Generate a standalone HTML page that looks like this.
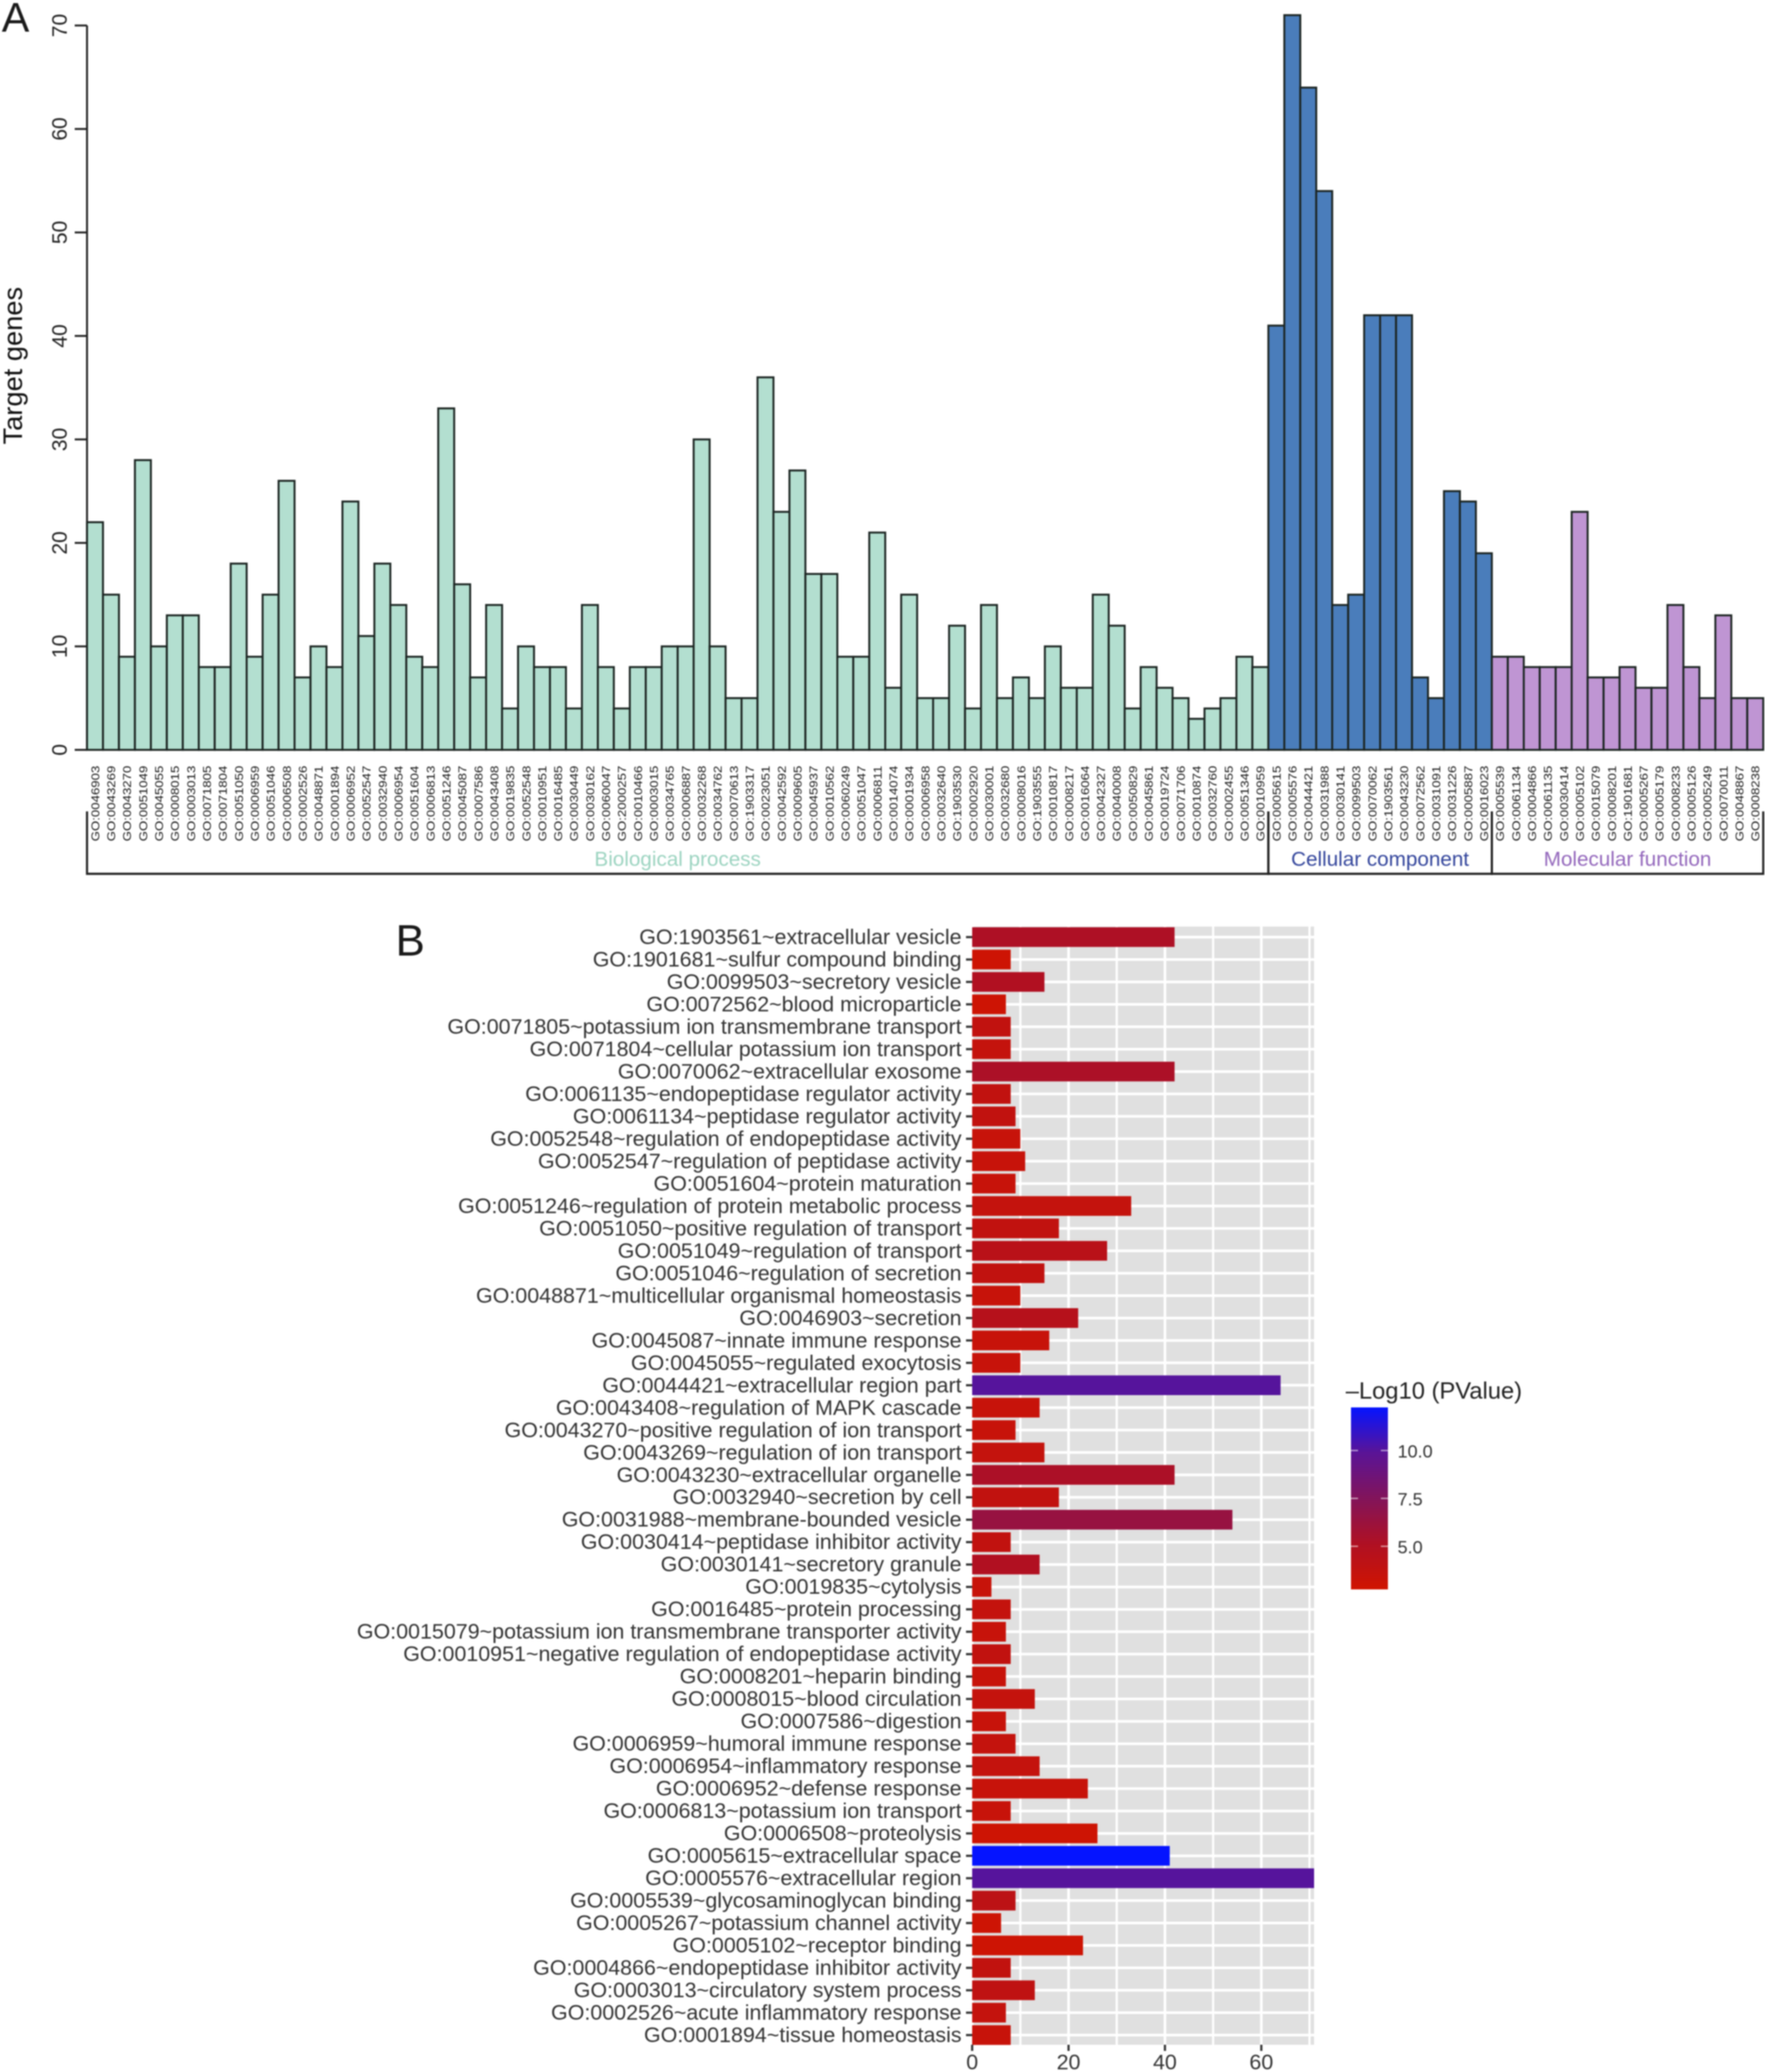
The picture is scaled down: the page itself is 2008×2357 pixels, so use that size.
<!DOCTYPE html>
<html lang="en">
<head>
<meta charset="utf-8">
<title>GO enrichment of target genes</title>
<style>
html,body{margin:0;padding:0;background:#fff;}
body{width:2008px;height:2357px;overflow:hidden;}
#figure{display:block;filter:blur(0.7px);font-family:"Liberation Sans",Arial,sans-serif;}
</style>
</head>
<body>
<svg id="figure" xmlns="http://www.w3.org/2000/svg" width="2008" height="2357" viewBox="0 0 2008 2357">
<defs>
<linearGradient id="legend-gradient" x1="0" y1="1" x2="0" y2="0"></linearGradient>
</defs>
<text x="2" y="36" font-size="47" fill="#1a1a1a">A</text>
<text x="450" y="1087" font-size="50" fill="#1a1a1a">B</text>
<g id="panel-a"></g>
<g id="panel-b"></g>
<g id="legend"></g>
</svg>
<script>
// ---------- Panel A data ----------
const bpTerms = ["0046903","0043269","0043270","0051049","0045055","0008015","0003013","0071805","0071804","0051050","0006959","0051046","0006508","0002526","0048871","0001894","0006952","0052547","0032940","0006954","0051604","0006813","0051246","0045087","0007586","0043408","0019835","0052548","0010951","0016485","0030449","0030162","0060047","2000257","0010466","0003015","0034765","0006887","0032268","0034762","0070613","1903317","0023051","0042592","0009605","0045937","0010562","0060249","0051047","0006811","0014074","0001934","0006958","0032640","1903530","0002920","0030001","0032680","0008016","1903555","0010817","0008217","0016064","0042327","0040008","0050829","0045861","0019724","0071706","0010874","0032760","0002455","0051346","0010959"];
const bpCounts = [22,15,9,28,10,13,13,8,8,18,9,15,26,7,10,8,24,11,18,14,9,8,33,16,7,14,4,10,8,8,4,14,8,4,8,8,10,10,30,10,5,5,36,23,27,17,17,9,9,21,6,15,5,5,12,4,14,5,7,5,10,6,6,15,12,4,8,6,5,3,4,5,9,8];
const ccTerms = ["0005615","0005576","0044421","0031988","0030141","0099503","0070062","1903561","0043230","0072562","0031091","0031226","0005887","0016023"];
const ccCounts = [41,71,64,54,14,15,42,42,42,7,5,25,24,19];
const mfTerms = ["0005539","0061134","0004866","0061135","0030414","0005102","0015079","0008201","1901681","0005267","0005179","0008233","0005126","0005249","0070011","0048867","0008238"];
const mfCounts = [9,9,8,8,8,23,7,7,8,6,6,14,8,5,13,5,5];
const yTicksA = [0,10,20,30,40,50,60,70];

// ---------- Panel B data ----------
const rowLabels = ["GO:1903561~extracellular vesicle","GO:1901681~sulfur compound binding","GO:0099503~secretory vesicle","GO:0072562~blood microparticle","GO:0071805~potassium ion transmembrane transport","GO:0071804~cellular potassium ion transport","GO:0070062~extracellular exosome","GO:0061135~endopeptidase regulator activity","GO:0061134~peptidase regulator activity","GO:0052548~regulation of endopeptidase activity","GO:0052547~regulation of peptidase activity","GO:0051604~protein maturation","GO:0051246~regulation of protein metabolic process","GO:0051050~positive regulation of transport","GO:0051049~regulation of transport","GO:0051046~regulation of secretion","GO:0048871~multicellular organismal homeostasis","GO:0046903~secretion","GO:0045087~innate immune response","GO:0045055~regulated exocytosis","GO:0044421~extracellular region part","GO:0043408~regulation of MAPK cascade","GO:0043270~positive regulation of ion transport","GO:0043269~regulation of ion transport","GO:0043230~extracellular organelle","GO:0032940~secretion by cell","GO:0031988~membrane-bounded vesicle","GO:0030414~peptidase inhibitor activity","GO:0030141~secretory granule","GO:0019835~cytolysis","GO:0016485~protein processing","GO:0015079~potassium ion transmembrane transporter activity","GO:0010951~negative regulation of endopeptidase activity","GO:0008201~heparin binding","GO:0008015~blood circulation","GO:0007586~digestion","GO:0006959~humoral immune response","GO:0006954~inflammatory response","GO:0006952~defense response","GO:0006813~potassium ion transport","GO:0006508~proteolysis","GO:0005615~extracellular space","GO:0005576~extracellular region","GO:0005539~glycosaminoglycan binding","GO:0005267~potassium channel activity","GO:0005102~receptor binding","GO:0004866~endopeptidase inhibitor activity","GO:0003013~circulatory system process","GO:0002526~acute inflammatory response","GO:0001894~tissue homeostasis"];
const rowCounts = [42,8,15,7,8,8,42,8,9,10,11,9,33,18,28,15,10,22,16,10,64,14,9,15,42,18,54,8,14,4,8,7,8,7,13,7,9,14,24,8,26,41,71,9,6,23,8,13,7,8];
const rowLogP = [5.2,3.0,5.0,3.0,3.8,3.6,5.3,3.8,3.8,3.4,3.4,3.4,3.6,3.8,4.4,3.8,3.4,4.6,3.4,3.4,10.0,3.4,3.4,3.6,5.3,3.8,6.4,3.8,5.0,3.4,3.6,3.4,3.8,3.4,3.6,3.4,3.6,3.6,3.4,3.4,3.0,12.25,10.0,4.2,3.0,3.0,3.8,4.0,3.6,3.4];
const xTicksB = [0,20,40,60];
const xMinorB = [10,30,50,70];
const legendTicks = [5,7.5,10];
const legendRange = [2.75,12.25];

const NS = "http://www.w3.org/2000/svg";
function make(parent, tag, attrs, txt) {
  const e = document.createElementNS(NS, tag);
  for (const k in attrs) e.setAttribute(k, attrs[k]);
  if (txt !== undefined) e.textContent = txt;
  parent.appendChild(e);
  return e;
}

// ---------- Panel A ----------
const groupsA = [
  {key:"biological-process", title:"Biological process", terms:bpTerms, counts:bpCounts, fill:"#b3dfd0", color:"#9dd4c1"},
  {key:"cellular-component", title:"Cellular component", terms:ccTerms, counts:ccCounts, fill:"#4a7dbb", color:"#34469c"},
  {key:"molecular-function", title:"Molecular function", terms:mfTerms, counts:mfCounts, fill:"#bf95d3", color:"#9468bc"}
];
const panelA = document.getElementById("panel-a");
const totalBars = bpCounts.length + ccCounts.length + mfCounts.length;
const bandA = (2006 - 99) / totalBars;
function xA(i) { return 99 + i * bandA; }
function yA(v) { return 853 - v * (824 / 70); }

const yAxisA = make(panelA, "line", {x1:99, x2:99, y1:yA(70), y2:yA(0), stroke:"#222", "stroke-width":2.2});


yTicksA.forEach(function (t) {
  const tick = make(panelA, "line", {x1:85, x2:99, y1:yA(t), y2:yA(t), stroke:"#222", "stroke-width":2.2});
  
  
  const lab = make(panelA, "text", {transform:"translate(76 " + yA(t) + ") rotate(-90)", "text-anchor":"middle", "font-size":24, fill:"#222"}, String(t));
  
  
});
const yTitle = make(panelA, "text", {transform:"translate(25 416) rotate(-90)", "text-anchor":"middle", "font-size":31, fill:"#111"}, "Target genes");



let cursor = 0;
groupsA.forEach(function (g) {
  const start = cursor;
  g.counts.forEach(function (v, j) {
    const bar = make(panelA, "rect", {x:xA(cursor), y:yA(v), width:bandA, height:yA(0) - yA(v), fill:g.fill, stroke:"#1c2522", "stroke-width":2.2});
    
    
    const lab = make(panelA, "text", {transform:"translate(" + (xA(cursor) + bandA / 2 + 4.8) + " 957) rotate(-90)", "font-size":13, fill:"#1a1a1a", textLength:86, lengthAdjust:"spacingAndGlyphs"}, "GO:" + g.terms[j]);
    
    
    cursor++;
  });
  const box = make(panelA, "path", {d:"M" + xA(start) + " 923V994H" + xA(cursor) + "V923", fill:"none", stroke:"#222", "stroke-width":2.4});
  
  
  const title = make(panelA, "text", {x:(xA(start) + xA(cursor)) / 2, y:985, "text-anchor":"middle", "font-size":23.5, fill:g.color}, g.title);
  
  
});

// ---------- Colour scale ----------
const stops = [[208,20,0],[175,16,35],[130,20,90],[90,20,150],[5,20,255]];
function fillFor(v) {
  const t = Math.max(0, Math.min(1, (v - legendRange[0]) / (legendRange[1] - legendRange[0]))) * (stops.length - 1);
  const i = Math.min(stops.length - 2, Math.floor(t));
  const f = t - i;
  const c = stops[i].map(function (a, k) { return Math.round(a + (stops[i + 1][k] - a) * f); });
  return "rgb(" + c.join(",") + ")";
}

// ---------- Panel B ----------
const panelB = document.getElementById("panel-b");
function xB(v) { return 1106 + v * 5.483; }
function yB(i) { return 1066 + i * ((2315 - 1066) / (rowCounts.length - 1)); }

const bg = make(panelB, "rect", {x:1106, y:1054, width:389, height:1272, fill:"#e0e0e0"});


xMinorB.forEach(function (t) {
  const g = make(panelB, "line", {x1:xB(t), x2:xB(t), y1:1054, y2:2326, stroke:"#fff", "stroke-width":2.5});
  
  
});
xTicksB.forEach(function (t) {
  const g = make(panelB, "line", {x1:xB(t), x2:xB(t), y1:1054, y2:2326, stroke:"#fff", "stroke-width":3});
  
  
});
rowCounts.forEach(function (v, i) {
  const g = make(panelB, "line", {x1:1106, x2:1495, y1:yB(i), y2:yB(i), stroke:"#fff", "stroke-width":3});
  
  
});
rowCounts.forEach(function (v, i) {
  const bar = make(panelB, "rect", {x:xB(0), y:yB(i) - 11.2, width:Math.min(xB(v), 1495) - xB(0), height:22.4, fill:fillFor(rowLogP[i])});
  
  
  const tick = make(panelB, "line", {x1:1099, x2:1106, y1:yB(i), y2:yB(i), stroke:"#333", "stroke-width":2.5});
  
  
  const lab = make(panelB, "text", {x:1094, y:yB(i) + 8, "text-anchor":"end", "font-size":24.4, fill:"#333"}, rowLabels[i]);
  
  
});
xTicksB.forEach(function (t) {
  const tick = make(panelB, "line", {x1:xB(t), x2:xB(t), y1:2326, y2:2333, stroke:"#333", "stroke-width":2.5});
  
  
  const lab = make(panelB, "text", {x:xB(t), y:2354, "text-anchor":"middle", "font-size":24.4, fill:"#333"}, String(t));
  
  
});

// ---------- Legend ----------
const legend = document.getElementById("legend");
const grad = document.getElementById("legend-gradient");
stops.forEach(function (c, i) {
  make(grad, "stop", {offset:(i / (stops.length - 1)), "stop-color":"rgb(" + c.join(",") + ")"});
});
function yLegend(v) { return 1808 - (v - legendRange[0]) * (207 / (legendRange[1] - legendRange[0])); }
const legTitle = make(legend, "text", {x:1531, y:1591, "font-size":27, fill:"#222"}, "\u2013Log10 (PValue)");


const bar = make(legend, "rect", {x:1537, y:yLegend(legendRange[1]), width:42, height:207, fill:"url(#legend-gradient)"});


legendTicks.forEach(function (t) {
  const l1 = make(legend, "line", {x1:1537, x2:1545, y1:yLegend(t), y2:yLegend(t), stroke:"#fff", "stroke-opacity":0.6, "stroke-width":1.5});
  
  
  const l2 = make(legend, "line", {x1:1571, x2:1579, y1:yLegend(t), y2:yLegend(t), stroke:"#fff", "stroke-opacity":0.6, "stroke-width":1.5});
  
  
  const lab = make(legend, "text", {x:1590, y:yLegend(t) + 8, "font-size":20.5, fill:"#333"}, t.toFixed(1));
  
  
});
</script>
</body>
</html>
